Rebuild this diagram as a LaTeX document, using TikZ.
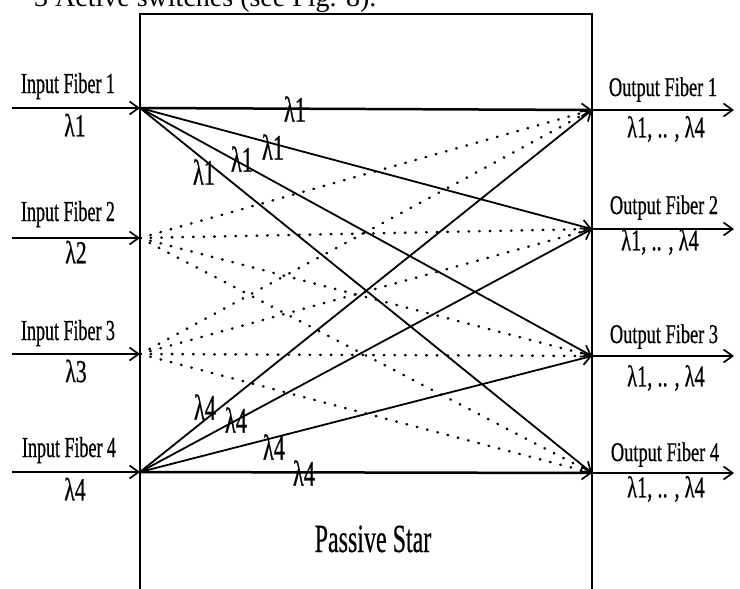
\documentclass[tikz,border=0pt]{standalone}
\usepackage{fontspec}
\setmainfont{Liberation Serif}
\newfontfamily\fin[FakeStretch=0.62,FakeBold=0.6]{Liberation Serif}
\newfontfamily\fout[FakeStretch=0.68,FakeBold=0.6]{Liberation Serif}
\newfontfamily\flam[FakeStretch=0.68,FakeBold=0.6]{Liberation Serif}
\newfontfamily\flamc[FakeStretch=0.62,FakeBold=0.6]{Liberation Serif}
\newfontfamily\fstar[FakeStretch=0.6,FakeBold=0.4]{Liberation Serif}
\usetikzlibrary{arrows.meta}
\begin{document}
\begin{tikzpicture}[x=1pt,y=-1pt,
  barb/.style={-{Straight Barb[length=9pt,width=13pt,line width=1.7pt]}},
  fiber/.style={barb,line width=2.1pt},
  sol/.style={barb,line width=1.8pt},
  thick sol/.style={barb,line width=2.5pt},
  dotline/.style={line width=2.5pt,line cap=round,dash pattern=on 0.6pt off 10pt},
  inlab/.style={font=\fin\fontsize{29}{30}\selectfont,anchor=base,inner sep=0pt},
  outlab/.style={font=\fout\fontsize{27}{28}\selectfont,anchor=base,inner sep=0pt},
  lamin/.style={font=\flam\fontsize{32}{33}\selectfont,inner sep=0pt},
  lamout/.style={font=\fout\fontsize{30}{31}\selectfont,inner sep=0pt},
  lamc/.style={font=\flamc\fontsize{36}{37}\selectfont,inner sep=0pt},
  box/.style={line width=2.1pt}]
\useasboundingbox (0,0) rectangle (740,589);
\clip (0,0) rectangle (740,589);
\fill[white] (0,0) rectangle (740,589);

% cropped header text
\node[anchor=base west,inner sep=0pt,font=\fontsize{28}{30}\selectfont] (hdr) at (34,6) {3 Active switches (see Fig. 8).};

% passive star box
\coordinate (bl) at (140,595);
\coordinate (tl) at (140,14);
\coordinate (tr) at (592,14);
\coordinate (br) at (592,595);
\draw[box] (bl) -- (tl) -- (tr) -- (br);

% ports
\coordinate (i1) at (140,108);
\coordinate (i2) at (140,238);
\coordinate (i3) at (140,354);
\coordinate (i4) at (140,472);
\coordinate (o1) at (592,110);
\coordinate (o2) at (592,229);
\coordinate (o3) at (592,356);
\coordinate (o4) at (592,473);
\coordinate (l1) at (12,108);
\coordinate (l2) at (12,238);
\coordinate (l3) at (12,354);
\coordinate (l4) at (12,472);
\coordinate (r1) at (734,110);
\coordinate (r2) at (734,229);
\coordinate (r3) at (734,356);
\coordinate (r4) at (734,473);

% input / output fibers
\foreach \k in {1,...,4}{
  \draw[fiber] (l\k) -- (i\k);
  \draw[fiber] (o\k) -- (r\k);
}

% dotted connections from inputs 2 and 3
\foreach \k in {1,...,4}{
  \draw[dotline] (i2) -- (o\k);
  \draw[dotline] (i3) -- (o\k);
}

% solid connections from inputs 1 and 4
\draw[thick sol] (i1) -- (o1);
\draw[sol] (i1) -- (o2);
\draw[sol] (i1) -- (o3);
\draw[sol] (i1) -- (o4);
\draw[sol] (i4) -- (o1);
\draw[sol] (i4) -- (o2);
\draw[sol] (i4) -- (o3);
\draw[thick sol] (i4) -- (o4);

% input labels
\node[inlab] (if1) at (68,93) {Input Fiber 1};
\node[inlab] (if2) at (68,221) {Input Fiber 2};
\node[inlab] (if3) at (68,340) {Input Fiber 3};
\node[inlab] (if4) at (69,457) {Input Fiber 4};
\node[lamin] (il1) at (75,125) {λ1};
\node[lamin] (il2) at (76,252) {λ2};
\node[lamin] (il3) at (76,371) {λ3};
\node[lamin] (il4) at (75,489) {λ4};

% output labels
\node[outlab] (of1) at (663,96) {Output Fiber 1};
\node[outlab] (of2) at (664,214) {Output Fiber 2};
\node[outlab] (of3) at (664,343) {Output Fiber 3};
\node[outlab] (of4) at (665,461) {Output Fiber 4};
\node[lamout] (ol1) at (666,129) {λ1, .. , λ4};
\node[lamout] (ol2) at (660,242) {λ1, .. , λ4};
\node[lamout] (ol3) at (666,378) {λ1, .. , λ4};
\node[lamout] (ol4) at (666,489) {λ1, .. , λ4};

% wavelength labels on lines
\node[lamc] (a1) at (295,109) {λ1};
\node[lamc] (a2) at (273,147) {λ1};
\node[lamc] (a3) at (242,159) {λ1};
\node[lamc] (a4) at (204,172) {λ1};
\node[lamc] (b1) at (205,407) {λ4};
\node[lamc] (b2) at (236,420) {λ4};
\node[lamc] (b3) at (274,447) {λ4};
\node[lamc] (b4) at (304,473) {λ4};

% title
\node[anchor=base,inner sep=0pt,font=\fstar\fontsize{40}{42}\selectfont] (ps) at (373,552) {Passive Star};
\end{tikzpicture}
\end{document}
